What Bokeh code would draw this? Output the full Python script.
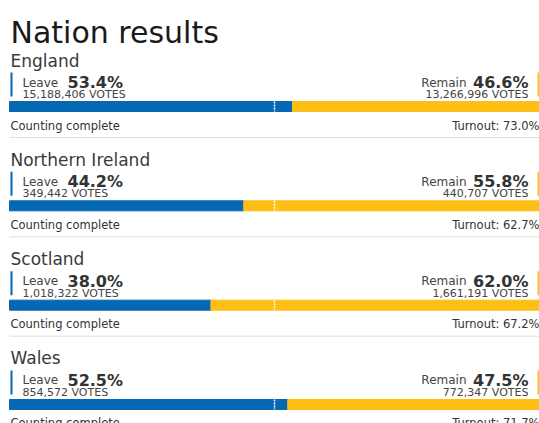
from bokeh.plotting import figure
from bokeh.models import Range1d, ColumnDataSource
from bokeh.core.properties import value
from bokeh.embed import file_html
from bokeh.resources import INLINE

# ---- data ----
nations = ["England", "Northern Ireland", "Scotland", "Wales"]
leave_pct = [53.4, 44.2, 38.0, 52.5]
remain_pct = [46.6, 55.8, 62.0, 47.5]
leave_votes = [15188406, 349442, 1018322, 854572]
remain_votes = [13266996, 440707, 1661191, 772347]
turnout = [73.0, 62.7, 67.2, 71.7]
status = ["Counting complete"] * 4
title_text = "Nation results"

BLUE = "#0667b3"
YELLOW = "#fdbf14"
FONT = value("DejaVu Sans")

ROW = 99.33  # pixel spacing between nation blocks
n = len(nations)
offs = [i * ROW for i in range(n)]

p = figure(width=539, height=423, x_range=Range1d(-9 / 5.3, 100),
           y_range=Range1d(423, 0), min_border=0, output_backend="svg",
           toolbar_location=None)
p.extra_x_ranges = {"px": Range1d(0, 539)}
p.axis.visible = False
p.grid.visible = False
p.outline_line_color = None
p.background_fill_color = "white"
p.border_fill_color = "white"

bar_y = [106 + o for o in offs]
src = ColumnDataSource(dict(
    y=bar_y, leave=leave_pct, remain=remain_pct,
    zero=[0] * n, full=[100] * n,
    mid=[50] * n, top=[y - 5 for y in bar_y], bot=[y + 5 for y in bar_y],
))
p.hbar(y="y", left="zero", right="leave", height=10, color=BLUE, source=src)
p.hbar(y="y", left="leave", right="full", height=10, color=YELLOW, source=src)
p.segment(x0="mid", x1="mid", y0="top", y1="bot", line_color="white",
          line_width=1.5, line_dash="2 1", source=src)

# separators
sep_y = [137 + o for o in offs[:-1]]
p.segment(x0=[9] * len(sep_y), x1=[539] * len(sep_y), y0=sep_y, y1=sep_y,
          line_color="#dedede", line_width=1, x_range_name="px")

# accent lines
p.segment(x0=[11] * n, x1=[11] * n, y0=[72 + o for o in offs],
          y1=[96 + o for o in offs], line_color=BLUE, line_width=2,
          x_range_name="px")
p.segment(x0=[538] * n, x1=[538] * n, y0=[72 + o for o in offs],
          y1=[96 + o for o in offs], line_color=YELLOW, line_width=2,
          x_range_name="px")

def txt(xs, ys, texts, size, color, align="left", style="normal"):
    p.text(x=xs, y=ys, text=texts, text_font=FONT, text_font_size=size,
           text_color=color, text_align=align, text_baseline="alphabetic",
           text_font_style=style, x_range_name="px")

txt([10], [32], [title_text], "30px", "#1a1a1a")
txt([10] * n, [60 + o for o in offs], nations, "17px", "#3a3a3a")
txt([22] * n, [82 + o for o in offs], ["Leave"] * n, "12px", "#444444")
txt([67] * n, [82 + o for o in offs], [f"{v:.1f}%" for v in leave_pct],
    "16px", "#333333", style="bold")
txt([22] * n, [94 + o for o in offs], [f"{v:,} VOTES" for v in leave_votes],
    "11px", "#444444")
txt([528] * n, [82 + o for o in offs], [f"{v:.1f}%" for v in remain_pct],
    "16px", "#333333", align="right", style="bold")
txt([466] * n, [82 + o for o in offs], ["Remain"] * n, "12px", "#444444",
    align="right")
txt([528] * n, [94 + o for o in offs], [f"{v:,} VOTES" for v in remain_votes],
    "11px", "#444444", align="right")
txt([10] * n, [125 + o for o in offs], status, "11.5px", "#333333")
txt([539] * n, [125 + o for o in offs], [f"Turnout: {t:.1f}%" for t in turnout],
    "11.5px", "#333333", align="right")

open("out.html", "w").write(file_html(p, INLINE))
